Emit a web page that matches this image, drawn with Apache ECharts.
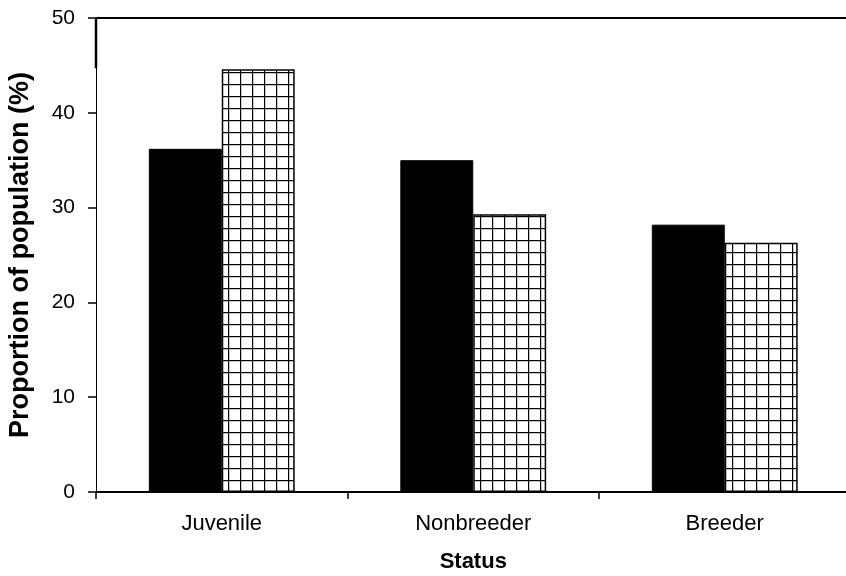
<!DOCTYPE html>
<html>
<head>
<meta charset="utf-8">
<script src="https://cdn.jsdelivr.net/npm/echarts@6/dist/echarts.min.js"></script>
<style>
  html, body { margin: 0; padding: 0; background: #fff; }
  #chart { width: 846px; height: 576px; }
</style>
</head>
<body>
<div id="chart"></div>
<script>
// Population status categories and proportions (%) for the two groups
const categories = ['Juvenile', 'Nonbreeder', 'Breeder'];
const solidValues = [36.2, 35.0, 28.2];
const gridValues = [44.6, 29.3, 26.3];
const yTicks = [0, 10, 20, 30, 40, 50];

const FONT = '"Liberation Sans", Arial, sans-serif';

// Square grid fill for the second series
function makeGridPattern() {
  const c = document.createElement('canvas');
  c.width = 12; c.height = 12;
  const g = c.getContext('2d');
  g.fillStyle = '#ffffff';
  g.fillRect(0, 0, 12, 12);
  g.fillStyle = '#000000';
  g.fillRect(0, 0, 12, 1.2);
  g.fillRect(0, 0, 1.2, 12);
  return c;
}

const chart = echarts.init(document.getElementById('chart'), null, { renderer: 'canvas' });

const option = {
  animation: false,
  backgroundColor: '#ffffff',
  grid: { left: 96, top: 18, width: 754.5, height: 474, containLabel: false, outerBoundsMode: 'none' },
  xAxis: [
    {
      type: 'category',
      data: categories,
      position: 'bottom',
      axisLine: { lineStyle: { color: '#000', width: 2 } },
      axisTick: { show: true, length: 7, lineStyle: { color: '#000', width: 1.5 } },
      axisLabel: { color: '#000', fontFamily: FONT, fontSize: 22, margin: 21 },
      name: 'Status',
      nameLocation: 'middle',
      nameGap: 59,
      nameTextStyle: { color: '#000', fontFamily: FONT, fontSize: 22, fontWeight: 'bold' }
    },
    {
      type: 'category',
      data: categories,
      position: 'top',
      axisLine: { lineStyle: { color: '#000', width: 2 } },
      axisTick: { show: false },
      axisLabel: { show: false }
    }
  ],
  yAxis: {
    type: 'value',
    min: yTicks[0],
    max: yTicks[yTicks.length - 1],
    interval: 10,
    axisLine: { show: true, lineStyle: { color: '#000', width: 1 } },
    axisTick: { show: true, length: 8, lineStyle: { color: '#000', width: 1.5 } },
    axisLabel: { color: '#000', fontFamily: FONT, fontSize: 21, margin: 21 },
    splitLine: { show: false },
    name: 'Proportion of population (%)',
    nameLocation: 'middle',
    nameGap: 62,
    nameTextStyle: { color: '#000', fontFamily: FONT, fontSize: 27, fontWeight: 'bold' }
  },
  series: [
    {
      type: 'bar',
      data: solidValues,
      barGap: '0%',
      barCategoryGap: '42%',
      itemStyle: { color: '#000', borderColor: '#000', borderWidth: 1 }
    },
    {
      type: 'bar',
      data: gridValues,
      barGap: '0%',
      barCategoryGap: '42%',
      itemStyle: {
        color: { image: makeGridPattern(), repeat: 'repeat' },
        borderColor: '#000',
        borderWidth: 1.5
      }
    }
  ]
};

chart.setOption(option);

// Heavier stroke on the upper part of the value axis
const pTop = chart.convertToPixel({ gridIndex: 0 }, [0, 50]);
const pMid = chart.convertToPixel({ gridIndex: 0 }, [0, 44.7]);
const step = chart.convertToPixel({ xAxisIndex: 0 }, 1) - chart.convertToPixel({ xAxisIndex: 0 }, 0);
const axisX = chart.convertToPixel({ xAxisIndex: 0 }, 0) - step / 2;
chart.setOption({
  graphic: [{
    type: 'line',
    shape: { x1: axisX, y1: pTop[1], x2: axisX, y2: pMid[1] },
    style: { stroke: '#000', lineWidth: 2.5 },
    z: 100
  }]
});
</script>
</body>
</html>
